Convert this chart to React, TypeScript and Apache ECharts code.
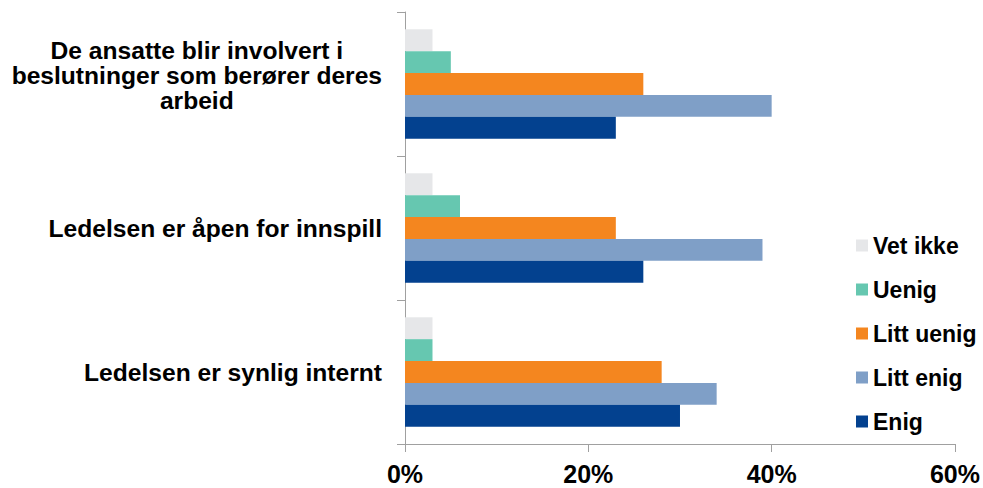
import React, { useEffect, useRef } from "react";
import * as echarts from "echarts";

const categories = [
  "Ledelsen er synlig internt",
  "Ledelsen er åpen for innspill",
  "De ansatte blir involvert i\nbeslutninger som berører deres\narbeid",
];
const seriesNames = ["Vet ikke", "Uenig", "Litt uenig", "Litt enig", "Enig"];
const vetIkke = [3, 3, 3];
const uenig = [3, 6, 5];
const littUenig = [28, 23, 26];
const littEnig = [34, 39, 40];
const enig = [30, 26, 23];
const xTicks = [0, 20, 40, 60];
const colors = ["#e6e7e9", "#66c7b0", "#f4861f", "#7f9fc7", "#03418f"];

export default function App() {
  const ref = useRef<HTMLDivElement>(null);
  useEffect(() => {
    const chart = echarts.init(ref.current!, null, { renderer: "svg" });
    const values = [vetIkke, uenig, littUenig, littEnig, enig];
    const font = "'Liberation Sans', Arial, sans-serif";
    chart.setOption({
      animation: false,
      backgroundColor: "#ffffff",
      textStyle: { fontFamily: font },
      grid: { left: 405, right: 27, top: 12, bottom: 44, containLabel: false },
      legend: {
        orient: "vertical",
        left: 851,
        top: 229,
        itemWidth: 12,
        itemHeight: 12,
        itemGap: 21,
        icon: "rect",
        data: seriesNames,
        textStyle: { fontSize: 23, fontWeight: "bold", color: "#000", fontFamily: font },
      },
      xAxis: {
        type: "value",
        min: xTicks[0],
        max: xTicks[xTicks.length - 1],
        interval: 20,
        splitLine: { show: false },
        axisLine: { show: true, lineStyle: { color: "#a0a0a0", width: 1 } },
        axisTick: { show: true, length: 8, lineStyle: { color: "#a0a0a0" } },
        axisLabel: {
          formatter: "{value}%",
          fontSize: 25,
          fontWeight: "bold",
          color: "#000",
          margin: 17,
          fontFamily: font,
        },
      },
      yAxis: {
        type: "category",
        data: categories,
        axisLine: { show: true, lineStyle: { color: "#a0a0a0", width: 1 } },
        axisTick: { show: true, length: 8, lineStyle: { color: "#a0a0a0" } },
        axisLabel: {
          margin: 23,
          color: "#000",
          formatter: (v: string) => {
            const lines = v.split("\n");
            if (lines.length === 1) return `{c|${v}}`;
            return lines.map((l) => `{c|${l}}`).join("\n") + "\n{e| }";
          },
          rich: {
            c: {
              fontSize: 24.6,
              fontWeight: "bold",
              color: "#000",
              lineHeight: 25,
              align: "center",
              fontFamily: font,
            },
            e: {
              fontSize: 1,
              lineHeight: 18,
              align: "center",
            },
          },
        },
      },
      series: seriesNames.map((name, i) => ({
        name,
        type: "bar",
        data: values[i],
        barGap: "0%",
        barCategoryGap: "24%",
        itemStyle: { color: colors[i] },
      })),
    });
    return () => chart.dispose();
  }, []);
  return (
    <div
      ref={ref}
      style={{ position: "fixed", left: 0, top: 0, width: 983, height: 488 }}
    />
  );
}
